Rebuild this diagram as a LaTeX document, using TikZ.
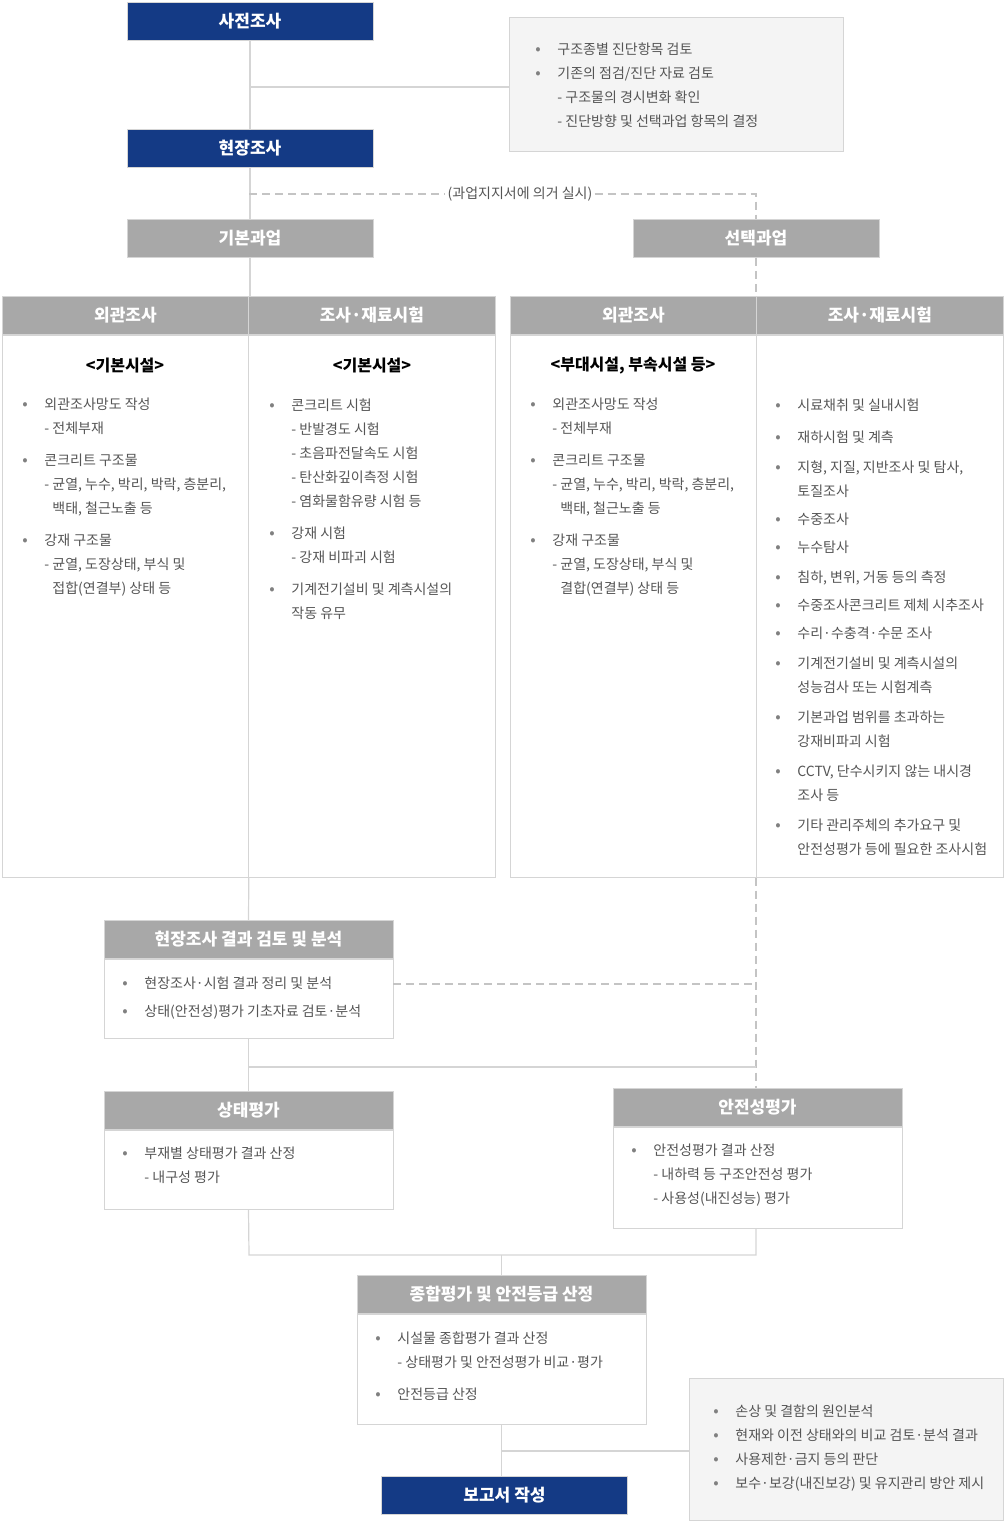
\documentclass[tikz,border=0pt]{standalone}
\usepackage{fontspec}
\setmainfont{Noto Sans CJK KR}
\usetikzlibrary{positioning}
\definecolor{navy}{HTML}{143A85}
\definecolor{hdgray}{HTML}{A8A8A8}
\definecolor{lngray}{HTML}{D5D5D5}
\definecolor{infofill}{HTML}{F4F4F4}
\definecolor{txtgray}{HTML}{555555}
\newcommand{\bul}{\makebox[11pt][l]{\textcolor{gray}{\footnotesize•}}}
\newcommand{\subi}{\hspace{11pt}- }
\newcommand{\cnt}{\hspace{11pt}\phantom{- }}
\tikzset{
  navybox/.style={fill=navy, draw=lngray, text=white, font=\fontsize{8.5}{10}\selectfont\bfseries, minimum width=123pt, minimum height=19pt, inner sep=0},
  graybox/.style={fill=hdgray, draw=lngray, text=white, font=\fontsize{8.5}{10}\selectfont\bfseries, minimum height=19pt, inner sep=0},
  bodybox/.style={draw=lngray, fill=white, inner sep=0, anchor=north},
  infobox/.style={draw=lngray, fill=infofill, inner sep=0},
  txt/.style={anchor=north west, align=left, inner sep=0, text=txtgray, font=\fontsize{7}{12}\selectfont},
  conn/.style={draw=lngray, line width=0.6pt},
  dconn/.style={draw=lngray!80!gray, line width=0.6pt, dash pattern=on 4pt off 2.5pt}
}
\begin{document}
\begin{tikzpicture}[x=0.5pt,y=-0.5pt]
\useasboundingbox (0,0) rectangle (1005,1525);

% top
\node[navybox] (pre) at (250,21) {사전조사};
\node[infobox, minimum width=167pt, minimum height=67pt] (info1) at (676,84) {};
\node[txt] (info1t) at (535,42) {\bul 구조종별 진단항목 검토\\ \bul 기존의 점검/진단 자료 검토\\ \subi 구조물의 경시변화 확인\\ \subi 진단방향 및 선택과업 항목의 결정};
\node[navybox] (site) at (250,148) {현장조사};
\node[graybox, minimum width=123pt] (basic) at (250,238.5) {기본과업};
\node[graybox, minimum width=123pt] (opt) at (756,238.5) {선택과업};
\node[inner sep=1pt, fill=white, text=txtgray, font=\fontsize{7}{9}\selectfont] (lbl) at (520,194) {(과업지지서에 의거 실시)};

% columns
\node[graybox, minimum width=123pt, anchor=north west] (h1) at (2,296) {외관조사};
\node[graybox, minimum width=123.5pt, anchor=north west] (h2) at (248,296) {조사·재료시험};
\node[graybox, minimum width=123pt, anchor=north west] (h3) at (510,296) {외관조사};
\node[graybox, minimum width=123.5pt, anchor=north west] (h4) at (756,296) {조사·재료시험};
\node[bodybox, minimum width=123pt, minimum height=271pt] (b1) at (h1.south) {};
\node[bodybox, minimum width=123.5pt, minimum height=271pt] (b2) at (h2.south) {};
\node[bodybox, minimum width=123pt, minimum height=271pt] (b3) at (h3.south) {};
\node[bodybox, minimum width=123.5pt, minimum height=271pt] (b4) at (h4.south) {};
\node[text=black, font=\fontsize{8}{10}\selectfont\bfseries, inner sep=0] (s1) at (125,366) {<기본시설>};
\node[text=black, font=\fontsize{8}{10}\selectfont\bfseries, inner sep=0] (s2) at (372,366) {<기본시설>};
\node[text=black, font=\fontsize{8}{10}\selectfont\bfseries, inner sep=0] (s3) at (633,366) {<부대시설, 부속시설 등>};
\node[txt] (t1) at (22,398) {\bul 외관조사망도 작성\\ \subi 전체부재\\[4pt] \bul 콘크리트 구조물\\ \subi 균열, 누수, 박리, 박락, 층분리,\\ \cnt 백태, 철근노출 등\\[4pt] \bul 강재 구조물\\ \subi 균열, 도장상태, 부식 및\\ \cnt 접합(연결부) 상태 등};
\node[txt] (t2) at (269,398) {\bul 콘크리트 시험\\ \subi 반발경도 시험\\ \subi 초음파전달속도 시험\\ \subi 탄산화깊이측정 시험\\ \subi 염화물함유량 시험 등\\[4pt] \bul 강재 시험\\ \subi 강재 비파괴 시험\\[4pt] \bul 기계전기설비 및 계측시설의\\ \hspace{11pt}작동 유무};
\node[txt] (t3) at (530,398) {\bul 외관조사망도 작성\\ \subi 전체부재\\[4pt] \bul 콘크리트 구조물\\ \subi 균열, 누수, 박리, 박락, 층분리,\\ \cnt 백태, 철근노출 등\\[4pt] \bul 강재 구조물\\ \subi 균열, 도장상태, 부식 및\\ \cnt 결합(연결부) 상태 등};
\node[txt] (t4) at (775,398) {\bul 시료채취 및 실내시험\\[4pt] \bul 재하시험 및 계측\\[3pt] \bul 지형, 지질, 지반조사 및 탐사,\\ \hspace{11pt}토질조사\\[2pt] \bul 수중조사\\[2pt] \bul 누수탐사\\[3pt] \bul 침하, 변위, 거동 등의 측정\\[2pt] \bul 수중조사콘크리트 제체 시추조사\\[2pt] \bul 수리·수충격·수문 조사\\[3pt] \bul 기계전기설비 및 계측시설의\\ \hspace{11pt}성능검사 또는 시험계측\\[3pt] \bul 기본과업 범위를 초과하는\\ \hspace{11pt}강재비파괴 시험\\[3pt] \bul CCTV, 단수시키지 않는 내시경\\ \hspace{11pt}조사 등\\[3pt] \bul 기타 관리주체의 추가요구 및\\ \hspace{11pt}안전성평가 등에 필요한 조사시험};

% results
\node[graybox, minimum width=144.5pt, anchor=north] (res) at (248.5,920) {현장조사 결과 검토 및 분석};
\node[bodybox, minimum width=144.5pt, minimum height=39.5pt] (resb) at (res.south) {};
\node[txt] (rest) at (122,976) {\bul 현장조사·시험 결과 정리 및 분석\\[2pt] \bul 상태(안전성)평가 기초자료 검토·분석};
\node[graybox, minimum width=144.5pt, anchor=north] (state) at (248.5,1091) {상태평가};
\node[bodybox, minimum width=144.5pt, minimum height=39.5pt] (stateb) at (state.south) {};
\node[txt] (statet) at (122,1147) {\bul 부재별 상태평가 결과 산정\\ \subi 내구성 평가};
\node[graybox, minimum width=144.5pt, anchor=north] (safe) at (757.5,1088) {안전성평가};
\node[bodybox, minimum width=144.5pt, minimum height=50.5pt] (safeb) at (safe.south) {};
\node[txt] (safet) at (631,1144) {\bul 안전성평가 결과 산정\\ \subi 내하력 등 구조안전성 평가\\ \subi 사용성(내진성능) 평가};
\node[graybox, minimum width=144.5pt, anchor=north] (tot) at (501.5,1275) {종합평가 및 안전등급 산정};
\node[bodybox, minimum width=144.5pt, minimum height=55pt] (totb) at (tot.south) {};
\node[txt] (tott) at (375,1331) {\bul 시설물 종합평가 결과 산정\\ \subi 상태평가 및 안전성평가 비교·평가\\[4pt] \bul 안전등급 산정};
\node[infobox, minimum width=157pt, minimum height=71pt] (info2) at (846,1449) {};
\node[txt] (info2t) at (713,1404) {\bul 손상 및 결함의 원인분석\\ \bul 현재와 이전 상태와의 비교 검토·분석 결과\\ \bul 사용제한·금지 등의 판단\\ \bul 보수·보강(내진보강) 및 유지관리 방안 제시};
\node[navybox] (rep) at (504.5,1495) {보고서 작성};

% connectors
\coordinate (j1) at (249,87);
\draw[conn] (pre.south) -- (site.north);
\draw[conn] (j1) -- (j1 -| info1.west);
\draw[conn] (site.south) -- (basic.north);
\coordinate (d1) at (249,194);
\coordinate (d2) at (756,194);
\draw[dconn] (d1) -- (lbl.west);
\draw[dconn] (lbl.east) -- (d2) -- (opt.north);
\draw[conn] (basic.south) -- (basic.south |- h1.north);
\draw[dconn] (opt.south) -- (opt.south |- h3.north);
\draw[conn] (b1.south east) -- (res.north);
\draw[dconn] (b4.south west) -- (b4.south west |- safe.north);
\coordinate (d3) at (393,984);
\draw[dconn] (d3) -- (d3 -| b4.south west);
\draw[conn] (resb.south) -- (state.north);
\coordinate (j2) at (249,1067);
\draw[conn] (j2) -- (j2 -| b4.south west);
\coordinate (j3) at (249,1255);
\coordinate (j4) at (756,1255);
\draw[conn] (stateb.south) -- (j3) -- (j4) -- (j4 |- safeb.south);
\draw[conn] (tot.north |- j3) -- (tot.north);
\draw[conn] (totb.south) -- (totb.south |- rep.north);
\coordinate (j5) at (502,1451);
\draw[conn] (j5) -- (j5 -| info2.west);
\end{tikzpicture}
\end{document}
